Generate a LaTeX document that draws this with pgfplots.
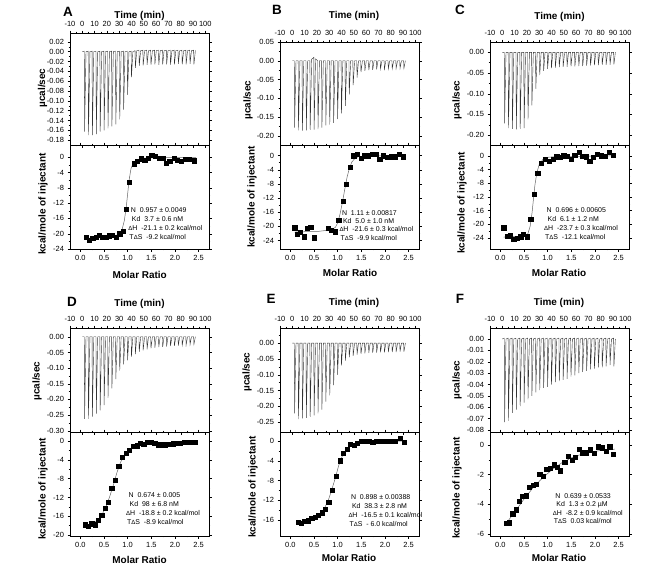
\documentclass[border=0pt]{standalone}
\usepackage{pgfplots}
\pgfplotsset{compat=1.18}
\usepackage{pgfplotstable}
\usepackage{fontspec}
\setmainfont{Liberation Sans}

\pgfplotstableread{
t A B C D E F
0 0 0 0 0 0 0
1.6 0.001 0 0 0 0 0.0008
1.85 -0.163 -0.178 -0.172 -0.262 -0.222 -0.073
3.0 0 0 0 0 0 0
4.78 0.001 0 0 0 0 0.0008
5.03 -0.170 -0.185 -0.183 -0.262 -0.240 -0.072
6.18 0 0 0 0 0 0
7.95 0.001 0 0 0 0 0.0008
8.2 -0.170 -0.186 -0.185 -0.255 -0.238 -0.065
9.35 0 0 0 0 0 0
11.13 0.001 0 0 0 0 0.0008
11.38 -0.168 -0.185 -0.186 -0.245 -0.236 -0.062
12.53 0 0 0 0 0 0
14.3 0.001 0 0 0 0 0.0008
14.55 -0.163 -0.184 -0.185 -0.235 -0.233 -0.059
15.7 0 0.004 0 0 0 0
17.48 0.001 0.009 0 0 0 0.0008
17.73 -0.160 -0.183 -0.183 -0.218 -0.228 -0.056
18.88 0 0.005 0 0 0 0
20.65 0.001 0 0 0 0 0.0008
20.9 -0.156 -0.182 -0.162 -0.195 -0.222 -0.053
22.05 0 0 0 0 0 0
23.83 0.001 0 0 0 0 0.0008
24.08 -0.152 -0.178 -0.128 -0.165 -0.210 -0.050
25.23 0 0 0 0 0 0
27.0 0.001 0 0 0 0 0.0008
27.25 -0.148 -0.172 -0.088 -0.135 -0.185 -0.047
28.4 0 0 0 0 0 0
30.18 0.001 0 0 0 0 0.0008
30.43 -0.138 -0.170 -0.055 -0.108 -0.165 -0.045
31.58 0 0 0 0 0 0
33.35 0.001 0 0 0 0 0.0008
33.6 -0.118 -0.165 -0.045 -0.088 -0.133 -0.043
34.75 0 0 0 0 0 0
36.53 0.001 0 0 0 0 0.0008
36.78 -0.088 -0.155 -0.040 -0.075 -0.100 -0.042
37.93 0 0 0 0 0 0
39.7 0.001 0 0 0 0 0.0008
39.95 -0.052 -0.140 -0.038 -0.063 -0.070 -0.040
41.1 0 0 0 0 0 0
42.88 0.002 0 0 0 0 0.0008
43.13 -0.033 -0.120 -0.037 -0.055 -0.055 -0.038
44.28 0.002 0 0 0 0 0
46.05 0.003 0 0 0 0 0.0008
46.3 -0.029 -0.090 -0.036 -0.048 -0.045 -0.037
47.45 0.002 0 0 0 0 0
49.23 0.003 0 0 0 0 0.0008
49.48 -0.028 -0.065 -0.035 -0.043 -0.040 -0.036
50.63 0.002 0 0 0 0 0
52.4 0.003 0 0 0 0 0.0008
52.65 -0.027 -0.045 -0.035 -0.040 -0.036 -0.035
53.8 0.002 0 0 0 0 0
55.58 0.003 0 0 0 0 0.0008
55.83 -0.027 -0.030 -0.034 -0.037 -0.034 -0.033
56.98 0.002 0 0 0 0 0
58.75 0.003 0 0 0 0 0.0008
59.0 -0.026 -0.027 -0.034 -0.035 -0.032 -0.032
60.15 0.002 0 0 0 0 0
61.93 0.003 0 0 0 0 0.0008
62.18 -0.027 -0.025 -0.033 -0.033 -0.031 -0.030
63.33 0.002 0 0 0 0 0
65.1 0.003 0 0 0 0 0.0008
65.35 -0.026 -0.024 -0.033 -0.032 -0.030 -0.029
66.5 0.002 0 0 0 0 0
68.28 0.003 0 0 0 0 0.0008
68.53 -0.026 -0.023 -0.032 -0.031 -0.030 -0.028
69.68 0.002 0 0 0 0 0
71.45 0.003 0 0 0 0 0.0008
71.7 -0.027 -0.022 -0.032 -0.030 -0.029 -0.027
72.85 0.002 0 0 0 0 0
74.63 0.003 0 0 0 0 0.0008
74.88 -0.026 -0.022 -0.031 -0.029 -0.029 -0.026
76.03 0.002 0 0 0 0 0
77.8 0.003 0 0 0 0 0.0008
78.05 -0.025 -0.021 -0.031 -0.028 -0.028 -0.025
79.2 0.002 0 0 0 0 0
80.98 0.003 0 0 0 0 0.0008
81.23 -0.026 -0.021 -0.030 -0.027 -0.028 -0.025
82.38 0.002 0 0 0 0 0
84.15 0.003 0 0 0 0 0.0008
84.4 -0.026 -0.020 -0.030 -0.026 -0.028 -0.024
85.55 0.002 0 0 0 0 0
87.33 0.003 0 0 0 0 0.0008
87.58 -0.025 -0.020 -0.030 -0.025 -0.027 -0.023
88.73 0.002 0 0 0 0 0
90.5 0.003 0 0 0 0 0.0008
90.75 -0.026 -0.020 -0.029 -0.024 -0.027 -0.024
91.9 0.002 0 0 0 0 0
92 0.002 0 0 0 0 0
}\rawdata

\newcommand{\statfont}{\fontsize{7}{8}\selectfont}
% #1 x of DeltaH line, #2 y of first line, #3 line spacing
\newcommand{\stats}[7]{%
  \node[anchor=mid west, inner sep=0, font=\statfont] at ({(#1+2.5)*1bp},{-(#2)*1bp}) {N\ \ #4};
  \node[anchor=mid west, inner sep=0, font=\statfont] at ({(#1+3.5)*1bp},{-(#2+#3)*1bp}) {Kd\ \ #5};
  \node[anchor=mid west, inner sep=0, font=\statfont] at ({(#1)*1bp},{-(#2+2*#3)*1bp}) {{\fontsize{6}{8}\selectfont\char"0394}H\ \ #6};
  \node[anchor=mid west, inner sep=0, font=\statfont] at ({(#1+1)*1bp},{-(#2+3*#3)*1bp}) {T{\fontsize{6}{8}\selectfont\char"0394}S\ \ #7};
}

\pgfplotsset{
  itc/.style={scale only axis, width=139bp,
    tick align=outside, major tick length=2.5bp, minor tick length=1.4bp,
    tick style={black, line width=0.4pt}, axis line style={black, line width=0.5pt},
    every tick label/.append style={font=\fontsize{7.5}{8}\selectfont},
    scaled ticks=false,
    /pgf/number format/assume math mode=true},
  rawax/.style={itc, xmin=-10, xmax=103, xtick={-10,0,10,20,30,40,50,60,70,80,90,100},
    minor x tick num=1, xticklabel pos=right, xtick pos=both, ytick pos=both,
    minor y tick num=1,
    yticklabel style={/pgf/number format/fixed, /pgf/number format/fixed zerofill, /pgf/number format/precision=2}},
  intax/.style={itc, xmin=-0.22, xmax=2.72, xtick={0,0.5,1,1.5,2,2.5}, minor x tick num=1,
    xtick pos=both, ytick pos=both, minor y tick num=1,
    xticklabel style={/pgf/number format/fixed, /pgf/number format/fixed zerofill, /pgf/number format/precision=1}},
  trace/.style={black!80, line width=0.4pt, mark=none},
  pts/.style={only marks, mark=square*, mark size=2.1bp, black},
  fit/.style={black!60, line width=0.5pt, mark=none}
}

\begin{document}
\begin{tikzpicture}
\path[use as bounding box] (0,0) rectangle (650bp,-587bp);

% ---------- A ----------
\begin{axis}[rawax, at={(70bp,-33bp)}, anchor=north west, height=112bp,
  ymin=-0.19, ymax=0.038, ytick={-0.18,-0.16,-0.14,-0.12,-0.1,-0.08,-0.06,-0.04,-0.02,0,0.02}]
\addplot[trace] table[x=t,y=A]{\rawdata};
\end{axis}
\begin{axis}[intax, at={(70bp,-145bp)}, anchor=north west, height=104bp,
  ymin=-24, ymax=3.2, ytick={-24,-20,-16,-12,-8,-4,0}]
\addplot[fit] coordinates {(0.1,-21.2)(0.5,-21.0)(0.7,-20.7)(0.8,-20.2)(0.88,-19.0)(0.93,-16.5)(0.97,-13.0)(1.0,-9.5)(1.03,-6.0)(1.07,-3.0)(1.12,-1.4)(1.2,-0.6)(1.35,-0.25)(1.6,-0.1)(2.45,-0.05)};
\addplot[pts] coordinates {(0.12,-21.0)(0.19,-21.7)(0.26,-21.2)(0.33,-21.0)(0.40,-20.4)(0.47,-20.9)(0.54,-20.9)(0.61,-20.5)(0.68,-20.3)(0.75,-20.9)(0.83,-20.0)(0.91,-19.3)(0.97,-13.5)(1.04,-6.6)(1.13,-1.7)(1.2,-1.0)(1.28,-0.4)(1.36,-0.8)(1.44,-0.3)(1.51,0.5)(1.58,0.3)(1.66,-0.3)(1.74,-0.3)(1.82,-1.6)(1.89,-1.0)(1.98,-0.3)(2.05,-0.7)(2.14,-1.1)(2.21,-0.5)(2.29,-0.6)(2.4,-0.9)};
\end{axis}

% ---------- B ----------
\begin{axis}[rawax, at={(280bp,-42bp)}, anchor=north west, height=103bp,
  ymin=-0.224, ymax=0.05, ytick={-0.2,-0.15,-0.1,-0.05,0,0.05}]
\addplot[trace] table[x=t,y=B]{\rawdata};
\end{axis}
\begin{axis}[intax, at={(280bp,-145bp)}, anchor=north west, height=104bp,
  ymin=-26.4, ymax=3.0, ytick={-24,-20,-16,-12,-8,-4,0}]
\addplot[fit] coordinates {(0.09,-21.6)(0.6,-21.4)(0.85,-21.0)(0.95,-20.3)(1.0,-19.0)(1.05,-16.5)(1.1,-13.2)(1.15,-9.5)(1.2,-6.0)(1.25,-3.5)(1.3,-1.8)(1.37,-0.7)(1.45,-0.25)(1.6,-0.1)(2.4,-0.02)};
\addplot[pts] coordinates {(0.09,-20.4)(0.15,-22.2)(0.21,-21.7)(0.29,-22.9)(0.36,-20.6)(0.43,-20.3)(0.51,-23.2)(0.8,-20.5)(0.87,-21.0)(0.95,-21.5)(1.02,-18.2)(1.11,-12.9)(1.18,-8.1)(1.26,-3.3)(1.34,0)(1.41,0.3)(1.49,-0.8)(1.57,0)(1.65,0)(1.73,0.3)(1.81,0.5)(1.89,-1.0)(1.97,0)(2.05,-0.4)(2.13,-0.3)(2.21,-0.3)(2.3,0.5)(2.39,-0.3)};
\end{axis}

% ---------- C ----------
\begin{axis}[rawax, at={(490bp,-42bp)}, anchor=north west, height=103bp,
  ymin=-0.224, ymax=0.025, ytick={-0.2,-0.15,-0.1,-0.05,0}]
\addplot[trace] table[x=t,y=C]{\rawdata};
\end{axis}
\begin{axis}[intax, at={(490bp,-145bp)}, anchor=north west, height=104bp,
  ymin=-27.2, ymax=3.2, ytick={-24,-20,-16,-12,-8,-4,0}]
\addplot[fit] coordinates {(0.07,-23.7)(0.5,-23.5)(0.58,-22.8)(0.63,-20.5)(0.67,-16.5)(0.7,-12.5)(0.73,-8.5)(0.77,-5.0)(0.82,-2.5)(0.9,-1.0)(1.0,-0.4)(1.2,-0.15)(2.4,0)};
\addplot[pts] coordinates {(0.07,-21.0)(0.14,-23.4)(0.21,-23.3)(0.28,-24.4)(0.36,-24.1)(0.43,-23.6)(0.49,-22.9)(0.56,-23.6)(0.64,-18.5)(0.71,-11.2)(0.79,-5.1)(0.87,-2.1)(0.95,-1.0)(1.03,-1.5)(1.11,-1.0)(1.19,-0.2)(1.26,-0.4)(1.34,0.1)(1.41,0)(1.5,-0.9)(1.57,0.2)(1.66,1.0)(1.73,0)(1.81,-0.2)(1.89,-1.5)(1.97,-0.3)(2.05,0.4)(2.13,0.1)(2.21,-0.1)(2.3,1.0)(2.39,0.3)};
\end{axis}

% ---------- D ----------
\begin{axis}[rawax, at={(70bp,-328bp)}, anchor=north west, height=104bp,
  ymin=-0.304, ymax=0.028, ytick={-0.3,-0.25,-0.2,-0.15,-0.1,-0.05,0}]
\addplot[trace] table[x=t,y=D]{\rawdata};
\end{axis}
\begin{axis}[intax, at={(70bp,-432bp)}, anchor=north west, height=104bp,
  ymin=-20.2, ymax=1.9, ytick={-20,-16,-12,-8,-4,0}]
\addplot[fit] coordinates {(0.1,-17.9)(0.25,-17.6)(0.35,-17.0)(0.45,-15.8)(0.55,-13.8)(0.62,-11.8)(0.7,-9.3)(0.77,-6.8)(0.85,-4.5)(0.95,-2.8)(1.05,-1.7)(1.15,-1.0)(1.3,-0.6)(1.5,-0.4)(2.0,-0.3)(2.42,-0.25)};
\addplot[pts] coordinates {(0.10,-17.8)(0.17,-18.1)(0.24,-17.6)(0.31,-17.8)(0.38,-16.8)(0.45,-15.8)(0.52,-14.3)(0.59,-13.1)(0.66,-10.1)(0.74,-8.3)(0.81,-5.3)(0.89,-3.5)(0.97,-2.6)(1.04,-1.9)(1.12,-1.1)(1.2,-1.0)(1.27,-0.5)(1.34,-0.7)(1.42,-0.3)(1.5,-0.3)(1.57,-0.5)(1.65,-0.8)(1.73,-0.8)(1.8,-0.8)(1.88,-0.7)(1.96,-0.6)(2.03,-0.5)(2.11,-0.4)(2.19,-0.3)(2.26,-0.2)(2.35,-0.3)(2.42,-0.3)};
\end{axis}

% ---------- E ----------
\begin{axis}[rawax, at={(280bp,-328bp)}, anchor=north west, height=104bp,
  ymin=-0.281, ymax=0.048, ytick={-0.25,-0.2,-0.15,-0.1,-0.05,0,0.05}]
\addplot[trace] table[x=t,y=E]{\rawdata};
\end{axis}
\begin{axis}[intax, at={(280bp,-432bp)}, anchor=north west, height=104bp,
  ymin=-19.2, ymax=1.8, ytick={-16,-12,-8,-4,0}]
\addplot[fit] coordinates {(0.16,-16.3)(0.4,-16.0)(0.55,-15.4)(0.65,-14.6)(0.72,-13.6)(0.8,-12.0)(0.87,-10.0)(0.95,-7.5)(1.02,-5.0)(1.1,-3.0)(1.18,-1.7)(1.28,-0.9)(1.4,-0.45)(1.6,-0.2)(2.0,-0.08)(2.41,-0.04)};
\addplot[pts] coordinates {(0.16,-16.4)(0.23,-16.6)(0.3,-16.2)(0.38,-16.1)(0.45,-15.6)(0.52,-15.4)(0.59,-15.0)(0.67,-14.5)(0.74,-13.8)(0.81,-12.4)(0.89,-9.9)(0.97,-7.1)(1.05,-4.0)(1.12,-2.4)(1.2,-1.7)(1.27,-0.7)(1.35,-0.8)(1.42,-0.5)(1.5,0)(1.58,-0.1)(1.66,-0.1)(1.74,-0.2)(1.81,-0.1)(1.89,-0.1)(1.97,-0.1)(2.05,0)(2.12,0)(2.21,-0.1)(2.32,0.6)(2.41,-0.2)};
\end{axis}

% ---------- F ----------
\begin{axis}[rawax, at={(490bp,-328bp)}, anchor=north west, height=104bp,
  ymin=-0.0818, ymax=0.0097, ytick={-0.08,-0.07,-0.06,-0.05,-0.04,-0.03,-0.02,-0.01,0,0.01}, minor y tick num=0]
\addplot[trace] table[x=t,y=F]{\rawdata};
\end{axis}
\begin{axis}[intax, at={(490bp,-432bp)}, anchor=north west, height=104bp,
  ymin=-6.15, ymax=0.88, ytick={-6,-4,-2,0}]
\addplot[fit] coordinates {(0.12,-5.3)(0.3,-4.55)(0.5,-3.65)(0.7,-2.85)(0.9,-2.2)(1.1,-1.65)(1.3,-1.2)(1.5,-0.87)(1.7,-0.64)(1.9,-0.48)(2.1,-0.38)(2.3,-0.31)(2.42,-0.28)};
\addplot[pts] coordinates {(0.12,-5.27)(0.19,-5.25)(0.26,-4.64)(0.33,-4.37)(0.40,-3.8)(0.47,-3.46)(0.54,-3.42)(0.61,-2.87)(0.69,-2.71)(0.76,-2.65)(0.83,-1.95)(0.9,-2.1)(0.98,-1.65)(1.06,-1.54)(1.13,-1.33)(1.2,-1.52)(1.27,-1.74)(1.36,-1.18)(1.44,-0.75)(1.51,-1.0)(1.59,-0.81)(1.67,-0.27)(1.74,-0.52)(1.82,-0.52)(1.9,-0.32)(1.98,-0.57)(2.07,-0.11)(2.15,-0.18)(2.23,-0.41)(2.31,-0.11)(2.39,-0.61)};
\end{axis}

% ---------- labels ----------
\tikzset{lab/.style={font=\bfseries\fontsize{10}{12}\selectfont, inner sep=0},
         let/.style={font=\bfseries\fontsize{13.5}{14}\selectfont, inner sep=0}}
\node[let] at (68bp,-12bp) {A};
\node[let] at (277bp,-10bp) {B};
\node[let] at (460bp,-10bp) {C};
\node[let] at (72bp,-302bp) {D};
\node[let] at (271bp,-299bp) {E};
\node[let] at (460bp,-299bp) {F};

\node[lab] at (139.5bp,-16bp) {Time (min)};
\node[lab] at (354bp,-16bp) {Time (min)};
\node[lab] at (559.5bp,-17bp) {Time (min)};
\node[lab] at (139.5bp,-304bp) {Time (min)};
\node[lab] at (354bp,-303bp) {Time (min)};
\node[lab] at (559bp,-303bp) {Time (min)};

\node[lab, rotate=90] at (42.5bp,-88bp) {µcal/sec};
\node[lab, rotate=90] at (248bp,-100bp) {µcal/sec};
\node[lab, rotate=90] at (457bp,-100bp) {µcal/sec};
\node[lab, rotate=90] at (37bp,-381bp) {µcal/sec};
\node[lab, rotate=90] at (247bp,-372bp) {µcal/sec};
\node[lab, rotate=90] at (457bp,-380bp) {µcal/sec};

\node[lab, rotate=90] at (43bp,-204bp) {kcal/mole of injectant};
\node[lab, rotate=90] at (252bp,-197bp) {kcal/mole of injectant};
\node[lab, rotate=90] at (462bp,-203bp) {kcal/mole of injectant};
\node[lab, rotate=90] at (43bp,-489bp) {kcal/mole of injectant};
\node[lab, rotate=90] at (253bp,-487bp) {kcal/mole of injectant};
\node[lab, rotate=90] at (457bp,-488bp) {kcal/mole of injectant};

\node[lab] at (139.7bp,-275bp) {Molar Ratio};
\node[lab] at (350bp,-273bp) {Molar Ratio};
\node[lab] at (559bp,-273bp) {Molar Ratio};
\node[lab] at (139.5bp,-560bp) {Molar Ratio};
\node[lab] at (349bp,-558bp) {Molar Ratio};
\node[lab] at (559bp,-558bp) {Molar Ratio};

\stats{128.3}{210.3}{9}{0.957 ± 0.0049}{3.7 ± 0.6 nM}{-21.1 ± 0.2 kcal/mol}{-9.2 kcal/mol}
\stats{339.3}{212.5}{8.4}{1.11 ± 0.00817}{5.0 ± 1.0 nM}{-21.6 ± 0.3 kcal/mol}{-9.9 kcal/mol}
\stats{544}{210}{9}{0.696 ± 0.00605}{6.1 ± 1.2 nM}{-23.7 ± 0.3 kcal/mol}{-12.1 kcal/mol}
\stats{126}{495}{8.9}{0.674 ± 0.005}{98 ± 6.8 nM}{-18.8 ± 0.2 kcal/mol}{-8.9 kcal/mol}
\stats{348.3}{496.7}{9.2}{0.898 ± 0.00388}{38.3 ± 2.8 nM}{-16.5 ± 0.1 kcal/mol}{- 6.0 kcal/mol}
\stats{552.7}{495.7}{8.4}{0.639 ± 0.0533}{1.3 ± 0.2 µM}{-8.2 ± 0.9 kcal/mol}{0.03 kcal/mol}
\end{tikzpicture}
\end{document}
